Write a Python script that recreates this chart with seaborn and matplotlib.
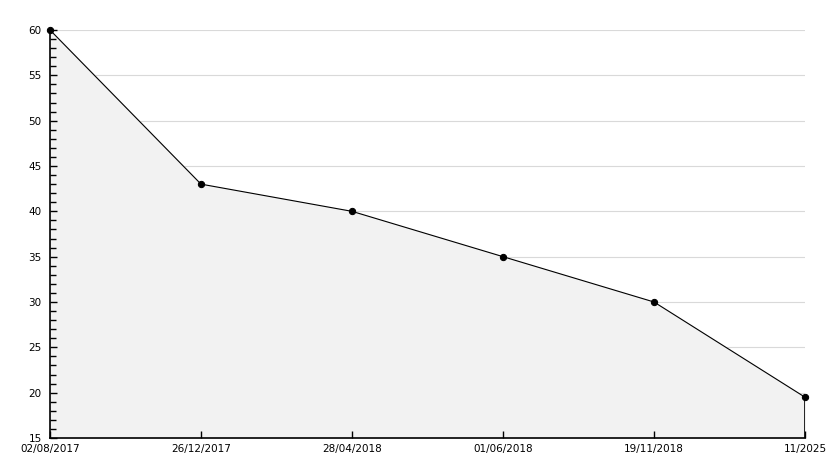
import matplotlib
matplotlib.use("Agg")
import matplotlib.pyplot as plt
from matplotlib.ticker import MultipleLocator
import numpy as np
import pandas as pd
import seaborn as sns

dates = ["02/08/2017", "26/12/2017", "28/04/2018", "01/06/2018", "19/11/2018", "11/2025"]
values = [60, 43, 40, 35, 30, 19.5]

sns.set_style("white")
plt.rcParams["font.family"] = ["DejaVu Sans"]

df = pd.DataFrame({"pos": np.arange(len(dates)), "value": values})

fig = plt.figure(figsize=(8.34, 4.68), dpi=100)
ax = fig.add_axes([50 / 834, 30 / 468, 755 / 834, 408 / 468])

ax.fill_between(df["pos"], df["value"], 15, color="#f2f2f2", zorder=1)
sns.lineplot(data=df, x="pos", y="value", ax=ax, color="black", linewidth=0.8,
             marker="o", markersize=4.5, markeredgecolor="black", zorder=3, clip_on=False)
ax.vlines(df["pos"].iloc[-1], 15, values[-1], color="black", linewidth=1.2, zorder=3)

ax.set_xlim(0, len(dates) - 1)
ax.set_ylim(15, 60)
ax.yaxis.set_major_locator(MultipleLocator(5))
ax.yaxis.set_minor_locator(MultipleLocator(1))
ax.set_xticks(df["pos"])
ax.set_xticklabels(dates)

# grid under the fill, ticks above it
for yv in ax.get_yticks():
    if 15 < yv <= 60:
        ax.axhline(yv, color="#d9d9d9", linewidth=0.8, zorder=0.5)
ax.set_axisbelow(False)

ax.tick_params(axis="y", which="major", direction="in", length=5, width=1, labelsize=7.5,
               pad=6, left=True, colors="black")
ax.tick_params(axis="y", which="minor", direction="in", length=4, width=1, left=True, color="black")
ax.tick_params(axis="x", which="major", direction="in", length=5, width=1, labelsize=7.5,
               pad=4, bottom=True, colors="black")

for s in ["top", "right"]:
    ax.spines[s].set_visible(False)
for s in ["left", "bottom"]:
    ax.spines[s].set_color("black")
    ax.spines[s].set_linewidth(1.2)

ax.set_xlabel("")
ax.set_ylabel("")

fig.savefig("out.png", dpi=100)
